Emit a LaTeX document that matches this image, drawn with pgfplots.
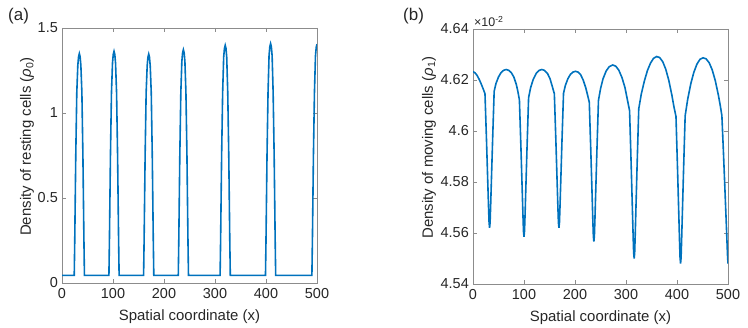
\documentclass[border=0pt]{standalone}
\usepackage{fontspec}
\setmainfont{Liberation Sans}
\usepackage{pgfplots}
\pgfplotsset{compat=1.18}
\definecolor{mblue}{rgb}{0,0.447,0.741}
\definecolor{axgray}{gray}{0.55}
\definecolor{txtgray}{gray}{0.15}

\pgfplotsset{
  mlab/.style={
    scale only axis, width=255bp, height=255bp,
    xmin=0, xmax=500, xtick={0,100,...,500},
    axis line style={axgray, line width=0.5bp},
    tick style={axgray, line width=0.5bp}, tick align=inside, major tick length=4bp,
    font=\fontsize{15}{18}\selectfont, text=txtgray,
    tick label style={font=\fontsize{14.5}{17}\selectfont, text=txtgray},
    /pgf/number format/assume math mode=true,
    xticklabel style={anchor=base, yshift=-15bp, inner sep=0pt},
    yticklabel style={anchor=east, xshift=-4bp, inner sep=0pt},
    scaled y ticks=false, clip mode=individual,
  },
}

\begin{document}
\begin{tikzpicture}
\useasboundingbox (0,0) rectangle (748bp,328bp);

\node[anchor=base west, inner sep=0pt, text=txtgray, font=\fontsize{17}{20}\selectfont] at (8bp,307bp) {(a)};
\node[anchor=base west, inner sep=0pt, text=txtgray, font=\fontsize{17}{20}\selectfont] at (403bp,307bp) {(b)};

% (a) resting cells
\begin{axis}[mlab, at={(62bp,45bp)}, anchor=south west,
  ymin=0, ymax=1.5, ytick={0,0.5,1,1.5},
  xlabel={Spatial coordinate (x)}, ylabel={Density of resting cells (\textit{ρ}\textsubscript{0})},
  xlabel style={at={(axis description cs:0.5,-0.149)}, anchor=base},
  ylabel style={at={(axis description cs:-0.122,0.535)}, anchor=base}]
\addplot[mblue, line width=1.6bp] coordinates {
(0,0.045)(24,0.045)(25,0.25)(27,0.75)(29,1.12)(31,1.28)(32.5,1.332)(34,1.35)(35.5,1.332)(37,1.28)(39,1.12)(41,0.75)(43,0.25)(44,0.045)
(92,0.045)(93,0.25)(95,0.75)(97,1.12)(99,1.293)(100.5,1.345)(102,1.363)(103.5,1.345)(105,1.293)(107,1.12)(109,0.75)(111,0.25)(112,0.045)
(160,0.045)(161,0.25)(163,0.75)(165,1.12)(167,1.277)(168.5,1.329)(170,1.347)(171.5,1.329)(173,1.277)(175,1.12)(177,0.75)(179,0.25)(180,0.045)
(228,0.045)(229,0.25)(231,0.75)(233,1.12)(235,1.303)(236.5,1.355)(238,1.373)(239.5,1.355)(241,1.303)(243,1.12)(245,0.75)(247,0.25)(248,0.045)
(310,0.045)(311,0.25)(313,0.75)(315,1.12)(317,1.328)(318.5,1.38)(320,1.398)(321.5,1.38)(323,1.328)(325,1.12)(327,0.75)(329,0.25)(330,0.045)
(399,0.045)(400,0.25)(402,0.75)(404,1.12)(406,1.338)(407.5,1.39)(409,1.408)(410.5,1.39)(412,1.338)(414,1.12)(416,0.75)(418,0.25)(419,0.045)
(490,0.045)(491,0.25)(493,0.75)(495,1.12)(497,1.335)(498.5,1.387)(500,1.405)
};
\end{axis}

% (b) moving cells, values in units of 1e-2
\begin{axis}[mlab, at={(473bp,44bp)}, anchor=south west,
  ymin=4.54, ymax=4.64, ytick={4.54,4.56,4.58,4.60,4.62,4.64},
  xlabel={Spatial coordinate (x)}, ylabel={Density of moving cells (\textit{ρ}\textsubscript{1})},
  xlabel style={at={(axis description cs:0.5,-0.149)}, anchor=base},
  ylabel style={at={(axis description cs:-0.157,0.535)}, anchor=base}]
\addplot[mblue, line width=1.6bp] coordinates {
(0,4.6233)(4,4.6228)(8,4.6218)(12,4.6203)(16,4.6185)(20,4.6165)(23.5,4.6146)
(26.5,4.5962)(28.5,4.583)(30.5,4.5699)(31.5,4.5641)(32.5,4.562)(33.5,4.5641)(34.5,4.570)(36.5,4.5834)(38.5,4.5968)(41.5,4.6156)
(45,4.6186)(50,4.6212)(55,4.6229)(60,4.6238)(65,4.6241)(70,4.6238)(75,4.6229)(80,4.6212)(85,4.6182)(88,4.6155)(91,4.6122)
(94,4.5934)(96,4.58)(98,4.5666)(99,4.5606)(100,4.5585)(101,4.5607)(102,4.5667)(104,4.5803)(106,4.5939)(109,4.613)
(113,4.617)(118,4.6202)(124,4.6226)(130,4.6238)(135,4.6241)(140,4.6238)(146,4.6226)(151,4.6205)(155,4.6178)(159.5,4.6146)
(162.5,4.5962)(164.5,4.583)(166.5,4.5699)(167.5,4.5641)(168.5,4.562)(169.5,4.5641)(170.5,4.5699)(172.5,4.583)(174.5,4.5964)(177.5,4.6148)
(181,4.6178)(186,4.6205)(191,4.6222)(196,4.6231)(201,4.6234)(206,4.6231)(211,4.6221)(216,4.6200)(221,4.6170)(225,4.6138)(228,4.6113)
(231,4.5922)(233,4.5785)(235,4.5648)(236,4.5588)(237,4.5566)(238,4.5588)(239,4.5649)(241,4.5788)(243,4.5926)(246,4.612)
(250,4.6165)(255,4.6205)(261,4.6235)(267,4.6252)(274,4.6259)(280,4.6254)(286,4.6238)(292,4.6210)(298,4.6170)(303,4.6120)(307,4.608)
(310,4.5877)(312,4.5732)(314,4.5587)(315,4.5523)(316,4.55)(317,4.5523)(318,4.5588)(320,4.5735)(322,4.5882)(325,4.6087)
(330,4.6145)(336,4.6196)(342,4.6237)(348,4.6266)(354,4.6285)(360,4.6292)(366,4.6288)(372,4.6272)(378,4.6242)(384,4.6198)(390,4.6140)(394,4.6095)(398,4.6057)
(401,4.5855)(403,4.5711)(405,4.5567)(406,4.5503)(407,4.548)(408,4.5503)(409,4.5567)(411,4.5712)(413,4.5857)(416,4.606)
(421,4.6125)(427,4.6185)(433,4.6230)(439,4.6262)(445,4.6281)(451,4.6287)(457,4.6283)(463,4.6268)(469,4.6240)(475,4.6198)(481,4.6142)(485,4.6098)(488,4.606)
(491,4.592)(494,4.577)(497,4.562)(499,4.5515)(500,4.548)
};
\node[anchor=base west, inner sep=0pt, text=txtgray, font=\fontsize{12.5}{14}\selectfont]
  at (rel axis cs:0,1) [xshift=1bp, yshift=2bp] {×10\textsuperscript{-2}};
\end{axis}
\end{tikzpicture}
\end{document}
